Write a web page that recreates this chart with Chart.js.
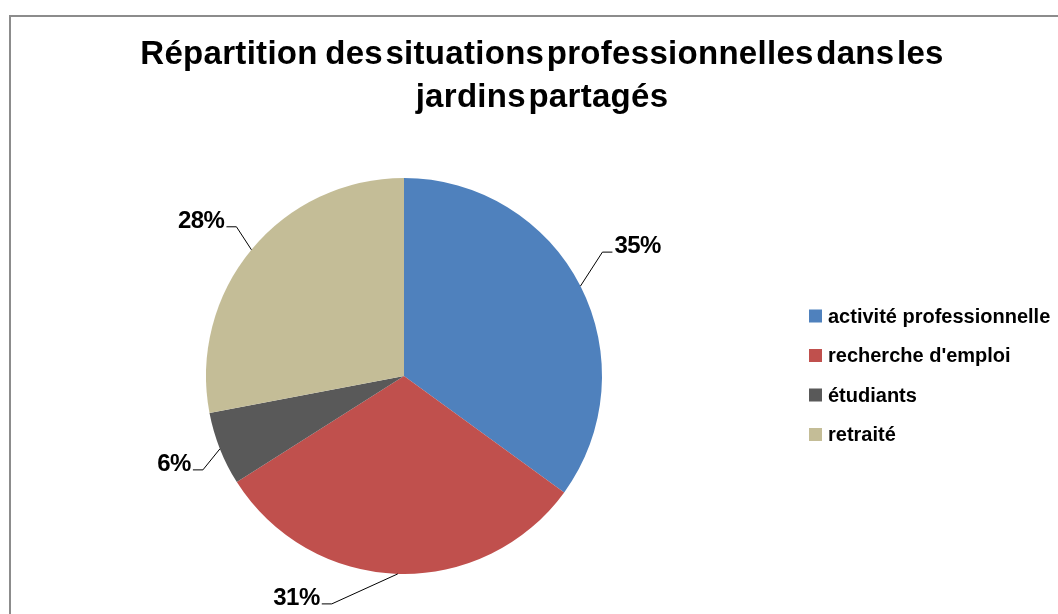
<!DOCTYPE html>
<html>
<head>
<meta charset="utf-8">
<script src="https://cdn.jsdelivr.net/npm/chart.js@4.4.0/dist/chart.umd.min.js"></script>
<style>
  html, body { margin: 0; padding: 0; background: #ffffff; }
  #wrap { width: 1058px; height: 614px; position: relative; }
</style>
</head>
<body>
<div id="wrap"><canvas id="pieChart" width="1058" height="614"></canvas></div>
<script>
// data
const categories = ['activité professionnelle', "recherche d'emploi", 'étudiants', 'retraité'];
const shares = [35, 31, 6, 28];
const sliceColors = ['#4F81BD', '#C0504D', '#595959', '#C4BD97'];
const titleLines = ['Répartition   des situations professionnelles dans les', 'jardins partagés'];

// where each leader line bends, relative to the slice edge
const labelOffsets = [[22, -34], [-66, 30], [-17, 21], [-15, -23]];

const FONT = '"Liberation Sans", Arial, sans-serif';

const decorPlugin = {
    id: 'decor',
    beforeDraw(chart) {
        const ctx = chart.ctx;
        ctx.save();
        ctx.fillStyle = '#ffffff';
        ctx.fillRect(0, 0, chart.width, chart.height);
        // outer frame of the chart object
        ctx.strokeStyle = '#8c8c8c';
        ctx.lineWidth = 2;
        ctx.strokeRect(10, 16, 1100, 700);
        ctx.restore();
    },
    afterDraw(chart) {
        const ctx = chart.ctx;
        ctx.save();

        // title
        ctx.fillStyle = '#000000';
        ctx.font = 'bold 33px ' + FONT;
        ctx.textAlign = 'center';
        ctx.textBaseline = 'alphabetic';
        ctx.letterSpacing = '0.3px';
        ctx.wordSpacing = '-7px';
        ctx.fillText(titleLines[0], 542, 64);
        ctx.fillText(titleLines[1], 542, 107);

        // legend
        ctx.letterSpacing = '0px';
        ctx.wordSpacing = '0px';
        ctx.font = 'bold 20px ' + FONT;
        ctx.textAlign = 'left';
        ctx.textBaseline = 'middle';
        categories.forEach((c, i) => {
            const y = 316 + i * 39.5;
            ctx.fillStyle = sliceColors[i];
            ctx.fillRect(809, y - 6.5, 13, 13);
            ctx.fillStyle = '#000000';
            ctx.fillText(c, 828, y + 1);
        });

        // percentage labels with leader lines
        const meta = chart.getDatasetMeta(0);
        const total = shares.reduce((a, b) => a + b, 0);
        ctx.font = 'bold 24px ' + FONT;
        ctx.letterSpacing = '-0.5px';
        ctx.textBaseline = 'alphabetic';
        meta.data.forEach((arc, i) => {
            const p = arc.getProps(['x', 'y', 'startAngle', 'endAngle', 'outerRadius'], true);
            const mid = (p.startAngle + p.endAngle) / 2;
            const ex = p.x + Math.cos(mid) * p.outerRadius;
            const ey = p.y + Math.sin(mid) * p.outerRadius;
            const bx = ex + labelOffsets[i][0];
            const by = ey + labelOffsets[i][1];
            const right = bx > p.x;
            const sx = bx + (right ? 10 : -10);
            ctx.strokeStyle = '#000000';
            ctx.lineWidth = 1;
            ctx.beginPath();
            ctx.moveTo(ex, ey);
            ctx.lineTo(bx, by);
            ctx.lineTo(sx, by);
            ctx.stroke();
            ctx.fillStyle = '#000000';
            ctx.textAlign = right ? 'left' : 'right';
            const pct = Math.round(shares[i] / total * 100) + '%';
            ctx.fillText(pct, sx + (right ? 2 : -2), by + 1);
        });
        ctx.restore();
    }
};

new Chart(document.getElementById('pieChart'), {
    type: 'pie',
    data: {
        labels: categories,
        datasets: [{
            data: shares,
            backgroundColor: sliceColors,
            borderWidth: 0
        }]
    },
    options: {
        responsive: false,
        animation: false,
        layout: { padding: { left: 205, right: 455, top: 178, bottom: 40 } },
        plugins: {
            legend: { display: false },
            title: { display: false },
            tooltip: { enabled: false }
        }
    },
    plugins: [decorPlugin]
});
</script>
</body>
</html>
